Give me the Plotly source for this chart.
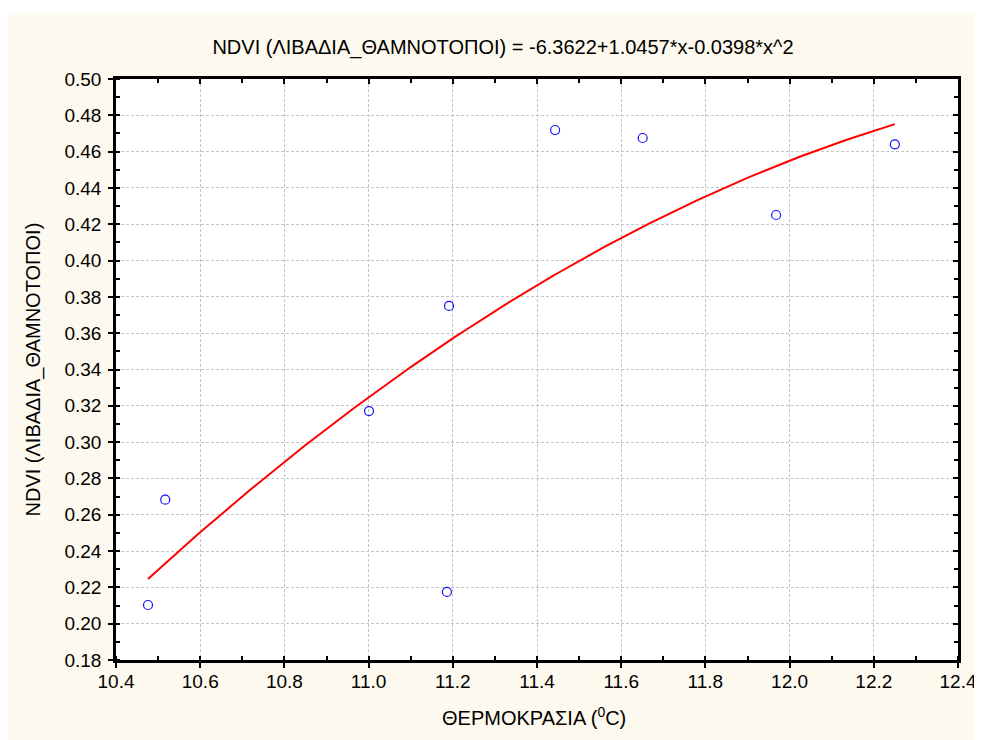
import numpy as np
import plotly.graph_objects as go

# Data
temperature = [10.476, 10.517, 11.001, 11.186, 11.191, 11.443, 11.651, 11.968, 12.250]
ndvi = [0.2103, 0.2683, 0.3171, 0.2175, 0.3750, 0.4719, 0.4675, 0.4251, 0.4640]

# Quadratic fit coefficients (as printed in the title): c0 + c1*x + c2*x^2
fit_coefs = [-6.3622, 1.0457, -0.0398]

title_text = "NDVI (ΛΙΒΑΔΙΑ_ΘΑΜΝΟΤΟΠΟΙ) = -6.3622+1.0457*x-0.0398*x^2"
y_title = "NDVI (ΛΙΒΑΔΙΑ_ΘΑΜΝΟΤΟΠΟΙ)"
x_title = "ΘΕΡΜΟΚΡΑΣΙΑ (<sup>0</sup>C)"

x_range = [10.4, 12.4]
y_range = [0.18, 0.50]

xs = np.linspace(min(temperature), max(temperature), 200)
ys = fit_coefs[0] + fit_coefs[1] * xs + fit_coefs[2] * xs ** 2

FONT = "Liberation Sans, Arial, sans-serif"
CREAM = "#FDF9EE"
FS = 19
FS_T = 20

fig = go.Figure()
fig.add_trace(go.Scatter(x=xs, y=ys, mode="lines",
                         line=dict(color="#FF0000", width=2), hoverinfo="skip",
                         showlegend=False))
fig.add_trace(go.Scatter(x=temperature, y=ndvi, mode="markers",
                         marker=dict(symbol="circle-open", size=9, color="#1010FF",
                                     line=dict(width=1.2, color="#1010FF")),
                         showlegend=False))
# dummy trace for the mirrored (top/right) axes
fig.add_trace(go.Scatter(x=[None], y=[None], xaxis="x2", yaxis="y2",
                         mode="markers", showlegend=False, hoverinfo="skip"))

# figure is placed by the page 8px right/down from the window corner
W, H = 1000, 740
L, R, T, B = 108, 50, 71, 88
pw, ph = W - L - R, H - T - B

def px_x(px):
    return (px - L) / pw

def px_y(py):
    return (H - B - py) / ph

grid = dict(showgrid=True, gridcolor="#C4C4C4", gridwidth=1, griddash="3px,2px")

fig.update_layout(
    width=W, height=H,
    margin=dict(l=L, r=R, t=T, b=B),
    paper_bgcolor=CREAM,
    plot_bgcolor="white",
    font=dict(family=FONT, size=FS, color="black"),
    title=dict(text=title_text, x=px_x(495), xref="paper", xanchor="center",
               y=1 - 39 / H, yref="container", yanchor="middle",
               font=dict(family=FONT, size=FS_T, color="black")),
    xaxis=dict(range=x_range, dtick=0.2, tick0=10.4, tickformat=".1f",
               ticks="outside", ticklen=5, tickwidth=1.5, tickcolor="black",
               minor=dict(dtick=0.1, tick0=10.4, ticks="inside", ticklen=4,
                          tickwidth=1.5, tickcolor="black", showgrid=False),
               showline=True, linewidth=2.5, linecolor="black", zeroline=False,
               ticklabelstandoff=-3, **grid),
    yaxis=dict(range=y_range, dtick=0.02, tick0=0.18, tickformat=".2f",
               ticks="outside", ticklen=5, tickwidth=1.5, tickcolor="black",
               minor=dict(dtick=0.01, tick0=0.18, ticks="inside", ticklen=4,
                          tickwidth=1.5, tickcolor="black", showgrid=False),
               showline=True, linewidth=2.5, linecolor="black", zeroline=False,
               ticklabelstandoff=3, **grid),
    xaxis2=dict(range=x_range, overlaying="x", side="top", anchor="y2",
                dtick=0.2, tick0=10.4, ticks="inside", ticklen=5, tickwidth=1.5,
                tickcolor="black", showticklabels=False,
                minor=dict(dtick=0.1, tick0=10.4, ticks="inside", ticklen=4,
                           tickwidth=1.5, tickcolor="black"),
                showline=True, linewidth=2.5, linecolor="black",
                showgrid=False, zeroline=False),
    yaxis2=dict(range=y_range, overlaying="y", side="right", anchor="x2",
                dtick=0.02, tick0=0.18, ticks="inside", ticklen=5, tickwidth=1.5,
                tickcolor="black", showticklabels=False,
                minor=dict(dtick=0.01, tick0=0.18, ticks="inside", ticklen=4,
                           tickwidth=1.5, tickcolor="black"),
                showline=True, linewidth=2.5, linecolor="black",
                showgrid=False, zeroline=False),
    shapes=[
        dict(type="rect", xref="paper", yref="paper",
             x0=px_x(0), x1=px_x(W), y0=px_y(5), y1=px_y(0),
             fillcolor="white", line=dict(width=0), layer="below"),
    ],
    annotations=[
        dict(text=y_title, xref="paper", yref="paper", x=px_x(25), y=0.5,
             xanchor="center", yanchor="middle", textangle=-90, showarrow=False,
             font=dict(family=FONT, size=FS_T, color="black")),
        dict(text=x_title, xref="paper", yref="paper", x=px_x(526), y=px_y(708),
             xanchor="center", yanchor="middle", showarrow=False,
             font=dict(family=FONT, size=FS_T, color="black")),
    ],
)

fig.write_html("out.html",
               post_script="document.documentElement.style.overflow='hidden';"
                           "document.body.style.overflow='hidden';")
